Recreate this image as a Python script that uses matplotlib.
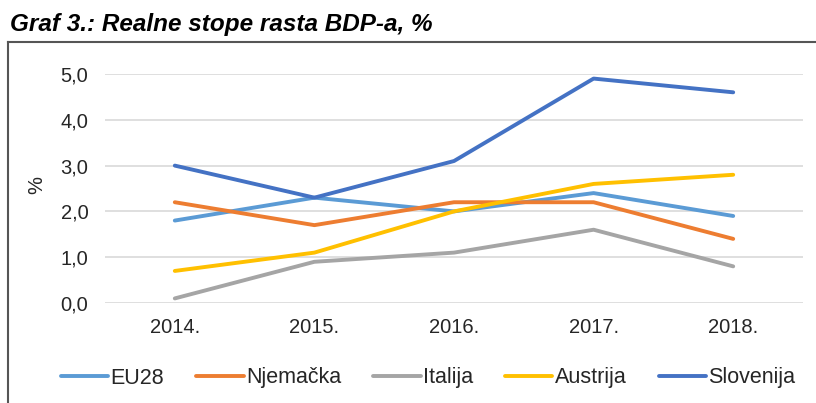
import matplotlib.pyplot as plt
from matplotlib.lines import Line2D
from matplotlib.ticker import FuncFormatter

plt.rcParams['font.family'] = ['Liberation Sans', 'DejaVu Sans']

years = ['2014.', '2015.', '2016.', '2017.', '2018.']
eu28 = [1.8, 2.3, 2.0, 2.4, 1.9]
njemacka = [2.2, 1.7, 2.2, 2.2, 1.4]
italija = [0.1, 0.9, 1.1, 1.6, 0.8]
austrija = [0.7, 1.1, 2.0, 2.6, 2.8]
slovenija = [3.0, 2.3, 3.1, 4.9, 4.6]

series = [
    ('EU28', eu28, '#5B9BD5'),
    ('Njemačka', njemacka, '#ED7D31'),
    ('Italija', italija, '#A5A5A5'),
    ('Austrija', austrija, '#FFC000'),
    ('Slovenija', slovenija, '#4472C4'),
]

fig = plt.figure(figsize=(8.16, 4.03), dpi=100)
ax = fig.add_axes([105 / 816, 1 - 303 / 403, 698 / 816, 229 / 403])

x = range(len(years))
for name, vals, col in series:
    ax.plot(x, vals, color=col, lw=2.8, label=name, solid_capstyle='round')

ax.set_xlim(-0.5, len(years) - 0.5)
ax.set_ylim(0, 5.0)
ax.set_yticks([0, 1, 2, 3, 4, 5])
ax.yaxis.set_major_formatter(FuncFormatter(lambda v, p: f'{v:.1f}'.replace('.', ',')))
ax.set_xticks(list(x))
ax.set_xticklabels(years)
ax.grid(axis='y', color='#D9D9D9', lw=1.2)
ax.set_axisbelow(True)
for s in ax.spines.values():
    s.set_visible(False)
ax.tick_params(length=0, labelsize=14.5, colors='#262626')
ax.tick_params(axis='y', pad=12)
ax.tick_params(axis='x', pad=11)

fig.text(37 / 816, 1 - 185 / 403, '%', fontsize=14.5, color='#262626',
         rotation=90, ha='center', va='center')

fig.legend(loc='center', bbox_to_anchor=(428 / 816, 1 - 378 / 403), ncol=5,
           frameon=False, fontsize=15.5, handlelength=2.2, columnspacing=1.5,
           handletextpad=0.1, labelcolor='#262626')

# outer frame
fig.add_artist(Line2D([8 / 816, 8 / 816], [0, 1 - 42 / 403], transform=fig.transFigure, color='#555555', lw=1.5))
fig.add_artist(Line2D([8 / 816, 1], [1 - 42 / 403, 1 - 42 / 403], transform=fig.transFigure, color='#555555', lw=1.5))

fig.text(10 / 816, 1 - 31 / 403, 'Graf 3.: Realne stope rasta BDP-a, %', fontsize=17.5,
         fontweight='bold', fontstyle='italic', va='baseline', ha='left')

fig.savefig('out.png', dpi=100)
